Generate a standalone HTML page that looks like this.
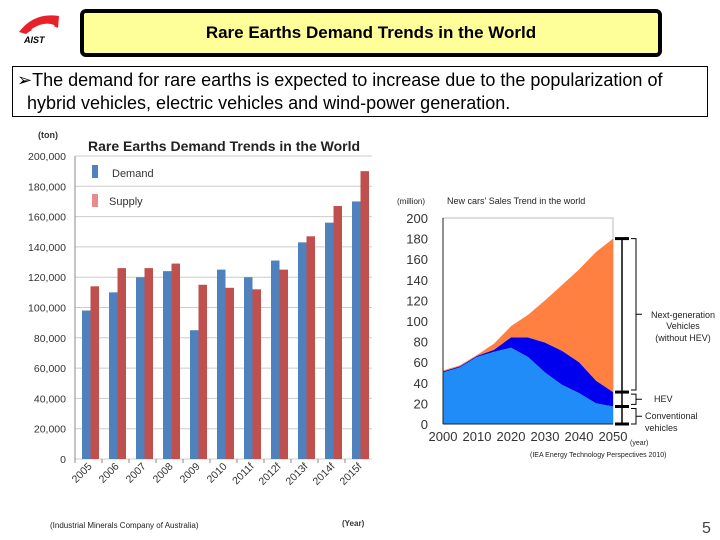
<!DOCTYPE html>
<html><head><meta charset="utf-8"><style>
body{margin:0;width:720px;height:540px;background:#fff;font-family:"Liberation Sans",sans-serif;position:relative;overflow:hidden}
.abs{position:absolute}
</style></head><body>
<div class="abs" style="left:14px;top:10px;width:50px;height:36px">
<svg width="50" height="36"><path d="M5 22 Q20 2 45 6 L44 18 Q30 10 12 24 Z" fill="#e8202a"/><path d="M18 20 Q30 12 40 16" stroke="#fff" stroke-width="2" fill="none"/><text x="10" y="33" font-size="9" font-style="italic" font-weight="bold" fill="#000" font-family="Liberation Sans">AIST</text></svg></div>
<div class="abs" style="left:80px;top:9px;width:574px;height:40px;background:#ffff99;border:4px solid #000;border-radius:6px;text-align:center;line-height:40px;font-weight:bold;font-size:17px">Rare Earths Demand Trends in the World</div>
<div class="abs" style="left:12px;top:66px;width:696px;height:51px;border:1px solid #000;font-size:18px;line-height:23px;padding:2px 0 0 4px;box-sizing:border-box">&#x27A2;The demand for rare earths is expected to increase due to the popularization of<br>&nbsp;&nbsp;hybrid vehicles, electric vehicles and wind-power generation.</div>
<svg class="abs" style="left:0;top:0" width="720" height="540">
<g id="bar"></g>
<g id="area"></g>
</svg>
<div class="abs" style="left:702px;top:520px;font-size:16px;color:#444">5</div>
<script>
const categories=["2005","2006","2007","2008","2009","2010","2011f","2012f","2013f","2014f","2015f"];
const demand=[98000,110000,120000,124000,85000,125000,120000,131000,143000,156000,170000];
const supply=[114000,126000,126000,129000,115000,113000,112000,125000,147000,167000,190000];
const yTicks=[0,20000,40000,60000,80000,100000,120000,140000,160000,180000,200000];
const years=[2000,2005,2010,2015,2020,2025,2030,2035,2040,2045,2050];
const conventional=[50,55,65,70,74,65,50,38,30,20,17];
const hevTop=[51,56,66,72,84,84,79,71,60,42,31];
const totalTop=[52,57,67,78,95,106,120,135,150,167,180];
const xTickYears=[2000,2010,2020,2030,2040,2050];
const aTicks=[0,20,40,60,80,100,120,140,160,180,200];
const NS='http://www.w3.org/2000/svg';
function mk(p,t,a,txt){const e=document.createElementNS(NS,t);for(const k in a)e.setAttribute(k,a[k]);if(txt!=null)e.textContent=txt;p.appendChild(e);return e;}
// bar chart
const B=document.getElementById('bar');
const bx0=75,bx1=372,by0=459,by1=156;
const by=v=>by0-(v/200000)*(by0-by1);
const gw=(bx1-bx0)/categories.length;
mk(B,'text',{x:38,y:138,'font-size':9,'font-weight':'bold',fill:'#333'},'(ton)');
mk(B,'text',{x:88,y:151,'font-size':14,'font-weight':'bold',fill:'#222'},'Rare Earths Demand Trends in the World');
yTicks.forEach(t=>{const y=by(t);
 let g=mk(B,'line',{x1:bx0,x2:bx1,y1:y,y2:y,stroke:'#ccc','stroke-width':1});
 let l=mk(B,'text',{x:66,y:y+4,'font-size':10.5,'text-anchor':'end',fill:'#333'},t.toLocaleString('en-US'));});
mk(B,'line',{x1:bx0,x2:bx0,y1:by1,y2:by0,stroke:'#888'});
categories.forEach((c,i)=>{const gx=bx0+i*gw;
 let d=mk(B,'rect',{x:gx+7,y:by(demand[i]),width:8.5,height:by0-by(demand[i]),fill:'#4f81bd'});
 let s=mk(B,'rect',{x:gx+15.5,y:by(supply[i]),width:8.5,height:by0-by(supply[i]),fill:'#c0504d'});
 mk(B,'line',{x1:gx,x2:gx,y1:by0,y2:by0+4,stroke:'#888'});
 let l=mk(B,'text',{x:gx+gw/2+4,y:by0+8,'font-size':10.5,'text-anchor':'end',fill:'#333',transform:`rotate(-45 ${gx+gw/2+4} ${by0+8})`},c);});
mk(B,'rect',{x:92,y:165,width:6,height:13,fill:'#4f81bd'});
mk(B,'text',{x:112,y:177,'font-size':11,fill:'#333'},'Demand');
mk(B,'rect',{x:92,y:194,width:6,height:13,fill:'#e98b8a'});
mk(B,'text',{x:109,y:205,'font-size':11,fill:'#333'},'Supply');
mk(B,'text',{x:50,y:528,'font-size':8,fill:'#222'},'(Industrial Minerals Company of Australia)');
mk(B,'text',{x:342,y:526,'font-size':8,'font-weight':'bold',fill:'#333'},'(Year)');
// area chart
const A=document.getElementById('area');
const ax0=443,ax1=613,ay0=424,ay1=218;
const ax=v=>ax0+(v-2000)/50*(ax1-ax0);
const ay=v=>ay0-v/200*(ay0-ay1);
mk(A,'text',{x:397,y:204,'font-size':8,fill:'#222'},'(million)');
mk(A,'text',{x:447,y:204,'font-size':9,fill:'#222'},"New cars' Sales Trend in the world");
mk(A,'rect',{x:ax0,y:ay1,width:ax1-ax0,height:ay0-ay1,fill:'#fff',stroke:'#bbb'});
function band(top,bot,fill,name){let d='M'+years.map((y,i)=>ax(y)+','+ay(top[i])).join('L');
 for(let i=years.length-1;i>=0;i--)d+='L'+ax(years[i])+','+ay(bot?bot[i]:0);
 let p=mk(A,'path',{d:d+'Z',fill:fill});}
band(totalTop,hevTop,'#ff8040','area-next-generation');
band(hevTop,conventional,'#0000ee','area-hev');
band(conventional,null,'#1f8cf8','area-conventional');
mk(A,'line',{x1:ax0,x2:ax0,y1:ay1,y2:ay0,stroke:'#222'});
mk(A,'line',{x1:ax0,x2:ax1,y1:ay0,y2:ay0,stroke:'#222'});
aTicks.forEach(t=>{let l=mk(A,'text',{x:428,y:ay(t)+5,'font-size':13,'text-anchor':'end',fill:'#333'},String(t));});
xTickYears.forEach(t=>{let l=mk(A,'text',{x:ax(t),y:441,'font-size':13,'text-anchor':'middle',fill:'#333'},String(t));});
// brackets
const bxr=622;
mk(A,'line',{x1:bxr,x2:bxr,y1:ay(180),y2:ay(0),stroke:'#000','stroke-width':1.5});
[180,31,17,0].forEach(v=>mk(A,'line',{x1:bxr-7,x2:bxr+7,y1:ay(v),y2:ay(v),stroke:'#000','stroke-width':3}));
function brk(a,b){const y1=ay(a),y2=ay(b);mk(A,'path',{d:`M631 ${y1}H636V${y2}H631M636 ${(y1+y2)/2}H642`,stroke:'#000',fill:'none'});}
brk(180,33);brk(29,19);brk(15,0);
mk(A,'text',{x:683,y:318,'font-size':9,'text-anchor':'middle',fill:'#222'},'Next-generation');
mk(A,'text',{x:683,y:329,'font-size':9,'text-anchor':'middle',fill:'#222'},'Vehicles');
mk(A,'text',{x:683,y:341,'font-size':9,'text-anchor':'middle',fill:'#222'},'(without HEV)');
mk(A,'text',{x:654,y:402,'font-size':9,fill:'#222'},'HEV');
mk(A,'text',{x:645,y:419,'font-size':9,fill:'#222'},'Conventional');
mk(A,'text',{x:645,y:431,'font-size':9,fill:'#222'},'vehicles');
mk(A,'text',{x:630,y:445,'font-size':7,fill:'#222'},'(year)');
mk(A,'text',{x:530,y:457,'font-size':7,fill:'#222'},'(IEA  Energy  Technology  Perspectives 2010)');
</script>
</body></html>
